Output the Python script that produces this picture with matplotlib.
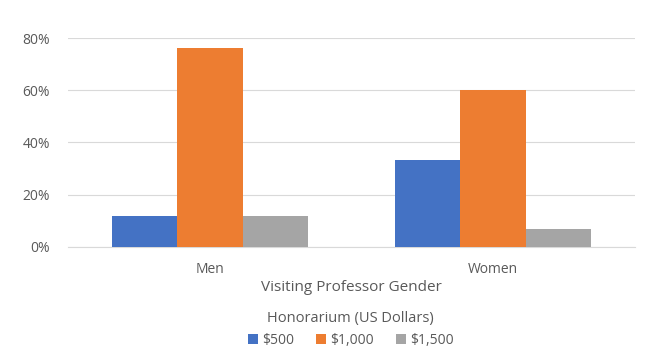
"""Honorarium by visiting professor gender, grouped bars."""

import numpy as np
import matplotlib
matplotlib.use('Agg')
import matplotlib.pyplot as plt
from matplotlib.ticker import PercentFormatter

genders = ['Men', 'Women']
series_names = ['$500', '$1,000', '$1,500']
share_500 = [0.12, 0.333]
share_1000 = [0.76, 0.60]
share_1500 = [0.12, 0.067]
colors = ['#4472C4', '#ED7D31', '#A5A5A5']

plt.rcParams['font.family'] = ['Open Sans', 'DejaVu Sans']
text_color = '#595959'

fig = plt.figure(figsize=(6.62, 3.62), dpi=100)
ax = fig.add_axes([0.103, 0.318, 0.856, 0.577])

x = np.arange(len(genders))
width = 0.231
for i, (vals, name) in enumerate(zip([share_500, share_1000, share_1500],
                                     series_names)):
    ax.bar(x + (i - 1) * width, vals, width, color=colors[i], label=name,
           zorder=3)

ax.set_xlim(-0.5, 1.5)
ax.set_ylim(0, 0.8)
ax.set_yticks([0, 0.2, 0.4, 0.6, 0.8])
ax.yaxis.set_major_formatter(PercentFormatter(1.0, decimals=0))
ax.grid(axis='y', color='#D9D9D9', linewidth=0.8, zorder=0)
for side in ['top', 'right', 'left']:
    ax.spines[side].set_visible(False)
ax.spines['bottom'].set_color('#D9D9D9')
ax.tick_params(length=0, colors=text_color, labelsize=10)
ax.tick_params(axis='y', pad=13)
ax.tick_params(axis='x', pad=11)
ax.set_xticks(x)
ax.set_xticklabels(genders)

ax.set_xlabel('Visiting Professor Gender', fontsize=11, color=text_color,
              labelpad=2)

leg = fig.legend(loc='upper center', bbox_to_anchor=(0.53, 0.16),
                 ncol=3, frameon=False, fontsize=10,
                 title='Honorarium (US Dollars)', title_fontsize=10.5,
                 handlelength=0.7, handleheight=0.7, handletextpad=0.3,
                 columnspacing=1.6, borderpad=0, labelspacing=0.2)
plt.setp(leg.get_texts(), color=text_color)
leg.get_title().set_color(text_color)
leg._legend_box.sep = 5

fig.savefig('out.png', dpi=100)
